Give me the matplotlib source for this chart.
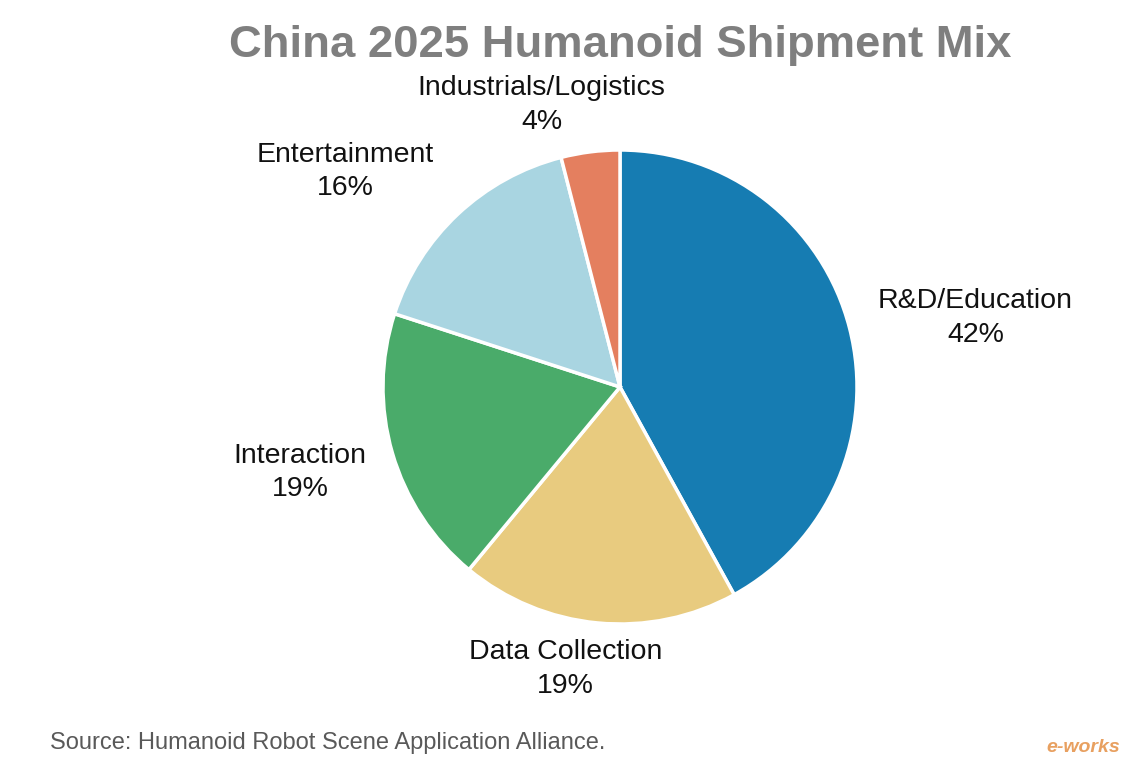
import matplotlib
matplotlib.use("Agg")
import matplotlib.pyplot as plt

categories = ["R&D/Education", "Data Collection", "Interaction", "Entertainment", "Industrials/Logistics"]
shares = [42, 19, 19, 16, 4]
colors = ["#167cb2", "#e8cb7f", "#4aab6a", "#a9d5e1", "#e47f5f"]
# label positions in pie-radius units (layout)
label_pos = [(1.50, 0.29), (-0.23, -1.19), (-1.35, -0.36), (-1.16, 0.91), (-0.33, 1.19)]

plt.rcParams["font.family"] = ["Liberation Sans", "DejaVu Sans"]

W, H = 1147, 772
fig = plt.figure(figsize=(W / 100, H / 100), dpi=100)
cx, cy, r = 620, 387, 237
ax = fig.add_axes([(cx - r) / W, (H - cy - r) / H, 2 * r / W, 2 * r / H])
wedges, _ = ax.pie(shares, colors=colors, startangle=90, counterclock=False,
                   radius=1, wedgeprops=dict(edgecolor="white", linewidth=2.5))
ax.set_xlim(-1, 1)
ax.set_ylim(-1, 1)
ax.set_aspect("equal")
ax.axis("off")

for cat, val, (x, y) in zip(categories, shares, label_pos):
    ax.text(x, y, f"{cat}\n{val}%", ha="center", va="center", fontsize=20.5,
            color="#111111", linespacing=1.38, clip_on=False)

fig.text(620 / W, 1 - 45 / H, "China 2025 Humanoid Shipment Mix", ha="center", va="center",
         fontsize=32.7, fontweight="bold", color="#7f7f7f")
fig.text(50 / W, 1 - 743 / H, "Source: Humanoid Robot Scene Application Alliance.",
         ha="left", va="center", fontsize=17, color="#595959")
fig.text(1083 / W, 1 - 748 / H, "e-works", ha="center", va="center", fontsize=14,
         style="italic", fontweight="bold", color="#e8a060")

fig.savefig("out.png", dpi=100, facecolor="white")
